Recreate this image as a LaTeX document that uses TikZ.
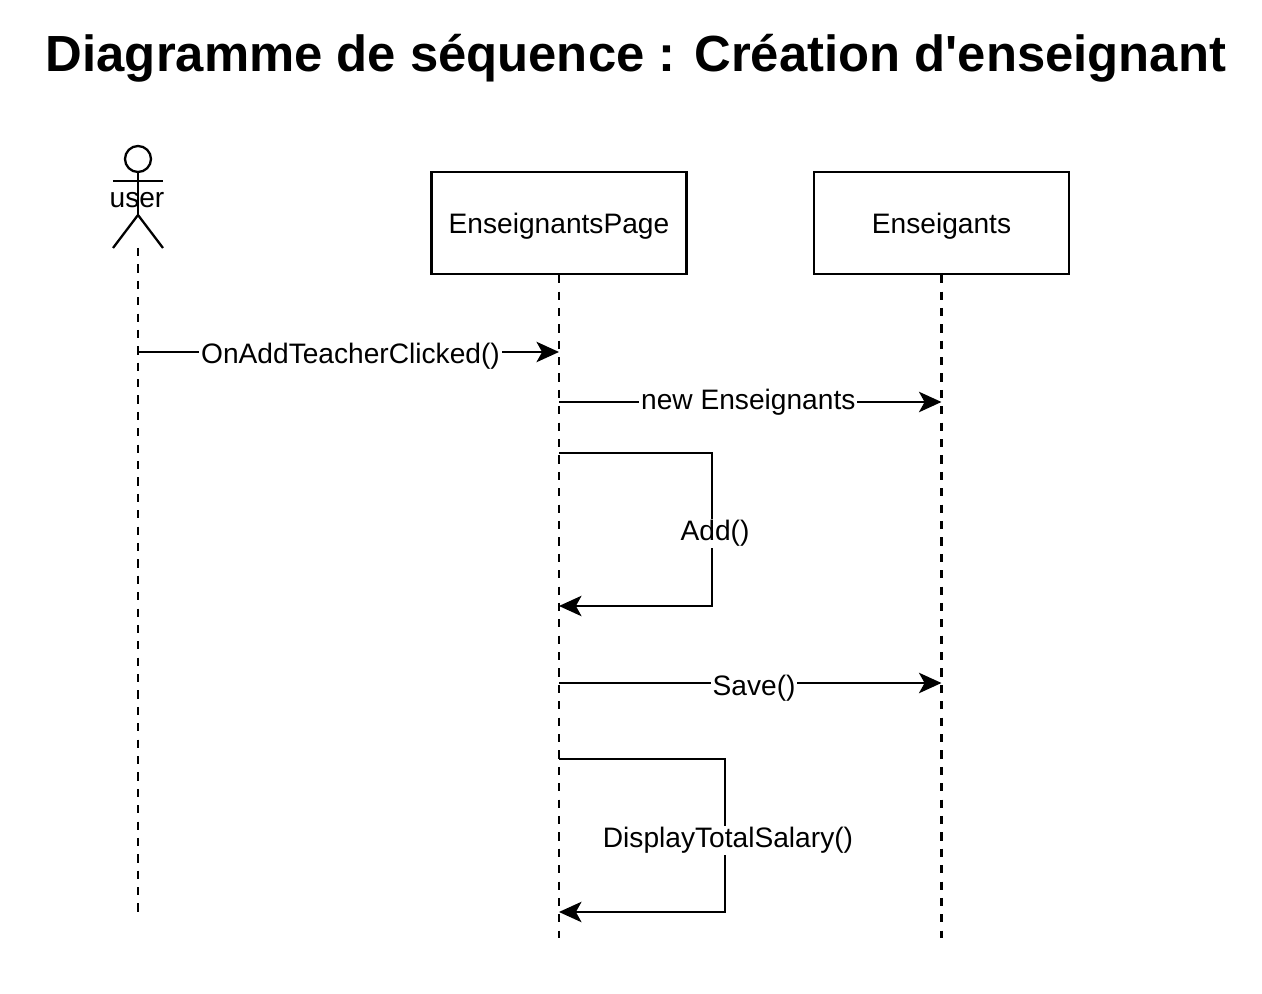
\documentclass[tikz,border=0pt]{standalone}
\usepackage{fontspec}
\setmainfont{Liberation Sans}
\newfontfamily\titlefont{Liberation Sans}
\usetikzlibrary{arrows.meta}
\tikzset{
	x=0.01cm,y=-0.01cm,
	box/.style={draw,minimum width=2.55cm,minimum height=1.02cm,font=\fontsize{8}{10}\selectfont,inner sep=0pt,text depth=0pt},
	msg/.style={font=\fontsize{8}{10}\selectfont,fill=white,inner sep=0.5pt},
	life/.style={dash pattern=on 2.33pt off 2.33pt},
	call/.style={-{Stealth[length=6.4pt,width=5.8pt,inset=1.6pt]}}
}
\begin{document}
\begin{tikzpicture}[line width=0.65pt]
		\useasboundingbox (0,0) rectangle (1262,994);
		\fill[white] (0,0) rectangle (1262,994);
		\node(title) at (636,58) {\fontsize{14.45}{17}\titlefont\bfseries Diagramme de séquence : Création d'enseignant};
		
		% actor
		\coordinate(head) at (138,159);
		\coordinate(neck) at (138,172);
		\coordinate(hip) at (138,215);
		\coordinate(foot) at (138,248);
		\coordinate(lfoot) at (113,248);
		\coordinate(rfoot) at (163,248);
		\coordinate(larm) at (113,181);
		\coordinate(rarm) at (163,181);
		\draw (head) circle (0.13cm);
		\draw (neck) -- (hip);
		\draw (larm) -- (rarm);
		\draw (lfoot) -- (hip) -- (rfoot);
		\node(user) at (137,200) [font=\fontsize{8}{10}\selectfont] {user};
		
		\node(page) [box] at (559,223) {EnseignantsPage};
		\node(ens) [box] at (941.5,223) {Enseigants};
		
		\coordinate(userend) at (138,912);
		\coordinate(pageend) at (559,938);
		\coordinate(ensend) at (941.5,938);
		\draw[life] (foot) -- (userend);
		\draw[life] (page.south) -- (pageend);
		\draw[life] (ens.south) -- (ensend);
		
		\coordinate(u1) at (138,352);
		\coordinate(p1) at (559,352);
		\coordinate(p2) at (559,402);
		\coordinate(e2) at (941.5,402);
		\coordinate(p3) at (559,453);
		\coordinate(p3r) at (712,453);
		\coordinate(p3s) at (712,606);
		\coordinate(p3e) at (559,606);
		\coordinate(p4) at (559,683);
		\coordinate(e4) at (941.5,683);
		\coordinate(p5) at (559,759);
		\coordinate(p5r) at (725,759);
		\coordinate(p5s) at (725,912);
		\coordinate(p5e) at (559,912);
		
		\draw[call] (u1) -- node[msg,xshift=0.02cm,yshift=-0.04cm] (lbla) {OnAddTeacherClicked()} (p1);
		\draw[call] (p2) -- node[msg,pos=0.495] (lblb) {new Enseignants} (e2);
		\draw[call] (p3) -- (p3r) -- node[msg,xshift=0.03cm,yshift=-0.04cm] (lblc) {Add()} (p3s) -- (p3e);
		\draw[call] (p4) -- node[msg,pos=0.505,xshift=0.02cm,yshift=-0.05cm] (lbld) {Save()} (e4);
		\draw[call] (p5) -- (p5r) -- node[msg,yshift=-0.05cm,xshift=0.03cm] (lble) {DisplayTotalSalary()} (p5s) -- (p5e);
		
		\end{tikzpicture}
\end{document}
